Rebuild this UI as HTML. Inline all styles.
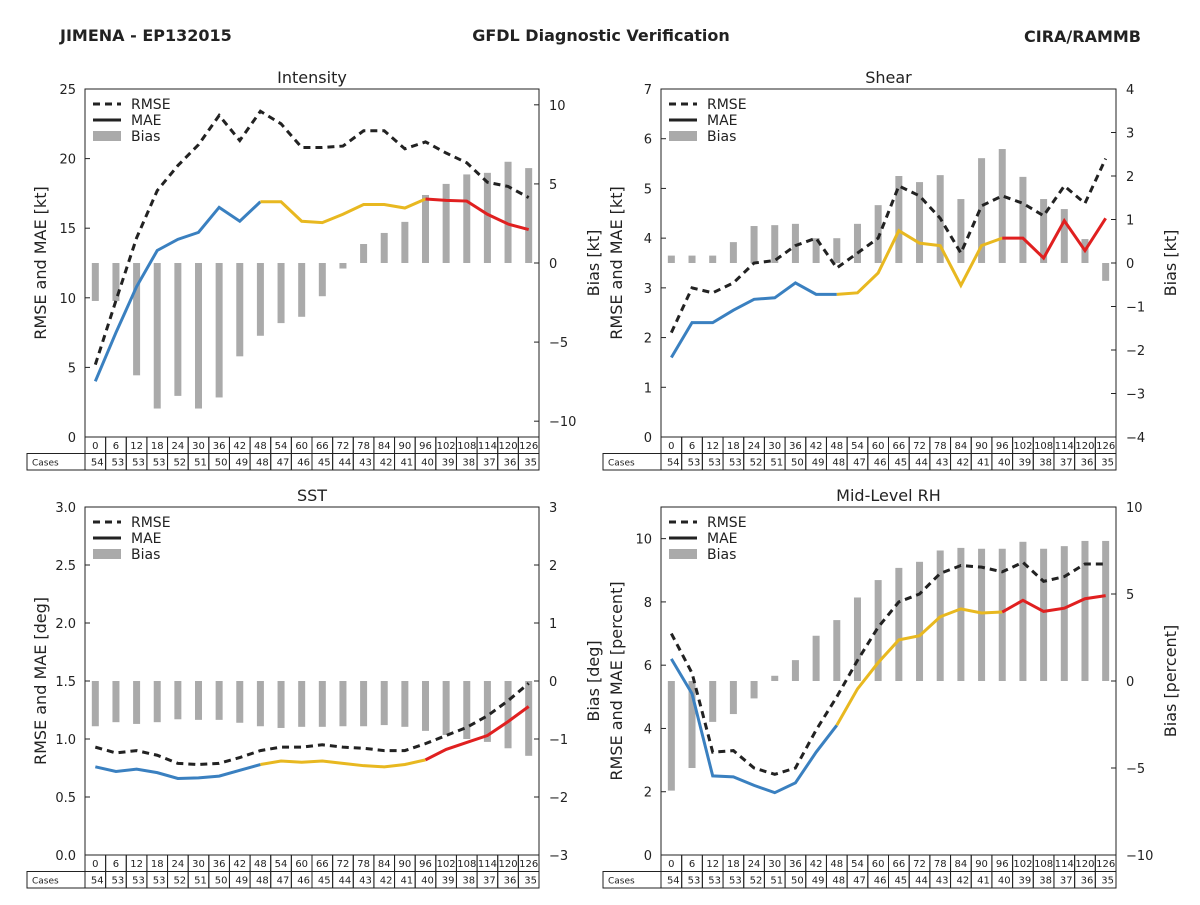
<!DOCTYPE html>
<html><head><meta charset="utf-8"><style>
body{margin:0;background:#fff;}
svg{font-family:"DejaVu Sans","Liberation Sans",sans-serif;}
</style></head><body>
<svg id="c" width="1200" height="900" xmlns="http://www.w3.org/2000/svg">
<text x="60" y="41" font-size="16" font-weight="bold" fill="#222">JIMENA - EP132015</text>
<text x="601" y="41" font-size="16" font-weight="bold" fill="#222" text-anchor="middle">GFDL Diagnostic Verification</text>
<text x="1141" y="42" font-size="16" font-weight="bold" fill="#222" text-anchor="end">CIRA/RAMMB</text>
</svg>
<script>
const leads=[0,6,12,18,24,30,36,42,48,54,60,66,72,78,84,90,96,102,108,114,120,126];
const cases=[54,53,53,53,52,51,50,49,48,47,46,45,44,43,42,41,40,39,38,37,36,35];
const intRmse=[5.2,9.8,14.3,17.7,19.5,21,23.1,21.3,23.4,22.5,20.8,20.8,20.9,22,22,20.7,21.2,20.4,19.7,18.3,18,17.2];
const intMae=[4.0,7.5,10.8,13.4,14.2,14.7,16.5,15.5,16.9,16.9,15.5,15.4,16,16.7,16.7,16.45,17.1,17,16.95,16,15.3,14.9];
const intBias=[-2.4,-2.4,-7.1,-9.2,-8.4,-9.2,-8.5,-5.9,-4.6,-3.8,-3.4,-2.1,-0.35,1.2,1.9,2.6,4.3,5,5.6,5.7,6.4,6];
const shRmse=[2.1,3.0,2.9,3.1,3.5,3.55,3.85,4.0,3.4,3.7,4.0,5.05,4.85,4.4,3.7,4.65,4.85,4.7,4.45,5.05,4.7,5.6];
const shMae=[1.6,2.3,2.3,2.55,2.77,2.8,3.1,2.87,2.87,2.9,3.3,4.15,3.9,3.85,3.05,3.85,4.0,4.0,3.6,4.35,3.75,4.4];
const shBias=[0.17,0.17,0.17,0.48,0.85,0.87,0.9,0.57,0.57,0.9,1.33,2.0,1.86,2.02,1.47,2.41,2.62,1.98,1.47,1.24,0.55,-0.41];
const sstRmse=[0.93,0.88,0.9,0.86,0.79,0.78,0.79,0.84,0.9,0.93,0.93,0.95,0.93,0.92,0.9,0.9,0.96,1.03,1.1,1.2,1.33,1.48];
const sstMae=[0.76,0.72,0.74,0.71,0.66,0.665,0.68,0.73,0.78,0.81,0.80,0.81,0.79,0.77,0.76,0.78,0.82,0.91,0.97,1.03,1.15,1.28];
const sstBias=[-0.78,-0.71,-0.74,-0.71,-0.66,-0.67,-0.67,-0.72,-0.78,-0.81,-0.79,-0.79,-0.78,-0.78,-0.76,-0.79,-0.86,-0.93,-1.0,-1.05,-1.16,-1.29];
const rhRmse=[7.0,5.75,3.25,3.3,2.75,2.55,2.75,3.95,5.0,6.15,7.2,8.0,8.25,8.9,9.15,9.1,8.95,9.25,8.65,8.8,9.2,9.2];
const rhMae=[6.2,5.1,2.5,2.47,2.2,1.97,2.28,3.25,4.1,5.25,6.08,6.8,6.93,7.53,7.78,7.65,7.68,8.05,7.7,7.8,8.1,8.2];
const rhBias=[-6.3,-5.0,-2.35,-1.9,-1.0,0.3,1.2,2.6,3.5,4.8,5.8,6.5,6.85,7.5,7.65,7.6,7.6,8.0,7.6,7.75,8.05,8.05];

const NS="http://www.w3.org/2000/svg";
const svg=document.getElementById('c');
function mk(tag,attrs,parent,txt){const e=document.createElementNS(NS,tag);for(const k in attrs)e.setAttribute(k,attrs[k]);if(txt!==undefined)e.textContent=txt;(parent||svg).appendChild(e);return e;}

const panels=[
 {id:'intensity',title:'Intensity',x0:85,x1:539,y0:89,y1:437,lmin:0,lmax:25,lt:[0,5,10,15,20,25],lf:v=>String(v),rmin:-11,rmax:11,rt:[-10,-5,0,5,10],ylab:'RMSE and MAE [kt]',rlab:'Bias [kt]',rmse:intRmse,mae:intMae,bias:intBias},
 {id:'shear',title:'Shear',x0:661,x1:1116,y0:89,y1:437,lmin:0,lmax:7,lt:[0,1,2,3,4,5,6,7],lf:v=>String(v),rmin:-4,rmax:4,rt:[-4,-3,-2,-1,0,1,2,3,4],ylab:'RMSE and MAE [kt]',rlab:'Bias [kt]',rmse:shRmse,mae:shMae,bias:shBias},
 {id:'sst',title:'SST',x0:85,x1:539,y0:507,y1:855,lmin:0,lmax:3,lt:[0,0.5,1,1.5,2,2.5,3],lf:v=>v.toFixed(1),rmin:-3,rmax:3,rt:[-3,-2,-1,0,1,2,3],ylab:'RMSE and MAE [deg]',rlab:'Bias [deg]',rmse:sstRmse,mae:sstMae,bias:sstBias},
 {id:'mid-level-rh',title:'Mid-Level RH',x0:661,x1:1116,y0:507,y1:855,lmin:0,lmax:11,lt:[0,2,4,6,8,10],lf:v=>String(v),rmin:-10,rmax:10,rt:[-10,-5,0,5,10],ylab:'RMSE and MAE [percent]',rlab:'Bias [percent]',rmse:rhRmse,mae:rhMae,bias:rhBias}
];
const fmtNeg=v=>v<0?'\u2212'+Math.abs(v):String(v);

panels.forEach(p=>{
 const g=mk('g',{});
 
 
 const n=leads.length, cw=(p.x1-p.x0)/n;
 const xs=i=>p.x0+cw*(i+0.5);
 const yl=v=>p.y1-(v-p.lmin)/(p.lmax-p.lmin)*(p.y1-p.y0);
 const yr=v=>p.y1-(v-p.rmin)/(p.rmax-p.rmin)*(p.y1-p.y0);
 const bars=mk('g',{},g);
 
 
 p.bias.forEach((v,i)=>{
  const y0=yr(0),y=yr(v);
  const r=mk('rect',{x:xs(i)-3.5,y:Math.min(y0,y),width:7,height:Math.abs(y-y0),fill:'#aaaaaa'},bars);
  
  
 });
 const rp=p.rmse.map((v,i)=>xs(i)+','+yl(v)).join(' ');
 const rl=mk('polyline',{points:rp,fill:'none',stroke:'#222','stroke-width':3,'stroke-dasharray':'7,5'},g);
 
 
 const segs=[[0,8,'#3a80c0','mae-line-0-48'],[8,16,'#e8b820','mae-line-48-96'],[16,21,'#e02020','mae-line-96-126']];
 segs.forEach(s=>{
  const pts=[];for(let i=s[0];i<=s[1];i++)pts.push(xs(i)+','+yl(p.mae[i]));
  const l=mk('polyline',{points:pts.join(' '),fill:'none',stroke:s[2],'stroke-width':3},g);
  
  
 });
 const fr=mk('rect',{x:p.x0,y:p.y0,width:p.x1-p.x0,height:p.y1-p.y0,fill:'none',stroke:'#222','stroke-width':1},g);
 
 
 p.lt.forEach(v=>{
  const y=yl(v);
  mk('line',{x1:p.x0,x2:p.x0+5,y1:y,y2:y,stroke:'#222'},g);
  const t=mk('text',{x:p.x0-9,y:y+5,'font-size':13,'text-anchor':'end',fill:'#222'},g,p.lf(v));
  
  
 });
 p.rt.forEach(v=>{
  const y=yr(v);
  mk('line',{x1:p.x1-5,x2:p.x1,y1:y,y2:y,stroke:'#222'},g);
  const t=mk('text',{x:p.x1+10,y:y+5,'font-size':13,fill:'#222'},g,fmtNeg(v));
  
  
 });
 const tt=mk('text',{x:(p.x0+p.x1)/2,y:p.y0-6,'font-size':16,'text-anchor':'middle',fill:'#222'},g,p.title);
 
 
 const cy=(p.y0+p.y1)/2;
 const la=mk('text',{x:0,y:0,'font-size':16,'text-anchor':'middle',fill:'#222',transform:`translate(${p.x0-39},${cy}) rotate(-90)`},g,p.ylab);
 
 
 const ra=mk('text',{x:0,y:0,'font-size':16,'text-anchor':'middle',fill:'#222',transform:`translate(${p.x1+60},${cy}) rotate(-90)`},g,p.rlab);
 
 
 const lg=mk('g',{},g);
 
 
 const lx=p.x0+8,ly=p.y0+15;
 mk('line',{x1:lx,x2:lx+28,y1:ly,y2:ly,stroke:'#222','stroke-width':3,'stroke-dasharray':'7,5'},lg);
 mk('text',{x:lx+38,y:ly+5,'font-size':14,fill:'#222'},lg,'RMSE');
 mk('line',{x1:lx,x2:lx+28,y1:ly+16,y2:ly+16,stroke:'#222','stroke-width':3},lg);
 mk('text',{x:lx+38,y:ly+21,'font-size':14,fill:'#222'},lg,'MAE');
 mk('rect',{x:lx,y:ly+27,width:28,height:10,fill:'#aaaaaa'},lg);
 mk('text',{x:lx+38,y:ly+37,'font-size':14,fill:'#222'},lg,'Bias');
 const tb=mk('g',{},g);
 
 
 const ty=p.y1,rh=16.5;
 mk('rect',{x:p.x0-58,y:ty+rh,width:58,height:rh,fill:'none',stroke:'#222'},tb);
 mk('text',{x:p.x0-53,y:ty+rh+12,'font-size':9,fill:'#222'},tb,'Cases');
 leads.forEach((h,i)=>{
  const x=p.x0+cw*i;
  mk('rect',{x:x,y:ty,width:cw,height:rh,fill:'none',stroke:'#222'},tb);
  mk('rect',{x:x,y:ty+rh,width:cw,height:rh,fill:'none',stroke:'#222'},tb);
  mk('text',{x:x+cw/2,y:ty+12,'font-size':10,'text-anchor':'middle',fill:'#222'},tb,String(h));
  mk('text',{x:x+cw-2,y:ty+rh+12,'font-size':10,'text-anchor':'end',fill:'#222'},tb,String(cases[i]));
 });
});
</script>
</body></html>
